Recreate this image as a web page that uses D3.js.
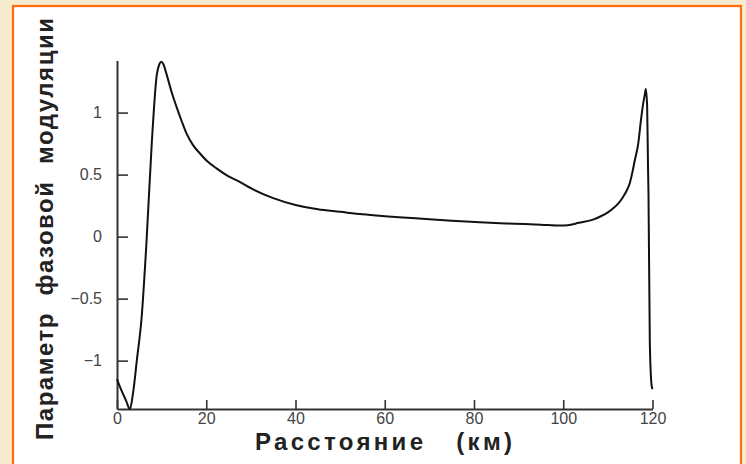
<!DOCTYPE html>
<html>
<head>
<meta charset="utf-8">
<script src="https://cdn.jsdelivr.net/npm/d3@7"></script>
<style>
  html, body { margin: 0; padding: 0; background: #f6ebcd; }
  svg { display: block; }
</style>
</head>
<body>
<script>
// Distance along the line (km) and the phase-modulation parameter at that point
const distanceKm = [0, 1, 2, 2.9, 3.6, 4.5, 5.5, 6.6, 7.8, 8.9, 9.5, 9.9, 10.4, 11.1, 12.2, 13.4,
  14.5, 15.6, 17, 18.6, 20.3, 22.3, 24.8, 27.6, 30, 35, 40, 45, 50, 55, 60, 65, 70, 75, 81.3,
  89, 95, 99.2, 101, 103.5, 106.5, 108.2, 110, 111.2, 112.4, 113.4, 114.2, 114.9, 115.5, 116,
  116.8, 117.4, 117.9, 118.3, 118.5, 118.8, 119.0, 119.1, 119.4, 119.8, 120];
const phaseParam = [-1.15, -1.24, -1.32, -1.39, -1.26, -0.98, -0.66, -0.05, 0.76, 1.30, 1.39, 1.41,
  1.39, 1.31, 1.17, 1.04, 0.93, 0.83, 0.74, 0.67, 0.605, 0.55, 0.49, 0.44, 0.39, 0.31, 0.255,
  0.22, 0.20, 0.18, 0.165, 0.152, 0.139, 0.127, 0.115, 0.104, 0.096, 0.089, 0.092, 0.111, 0.135,
  0.16, 0.195, 0.228, 0.27, 0.32, 0.37, 0.43, 0.52, 0.61, 0.75, 0.935, 1.07, 1.15, 1.19, 1.05,
  0.55, 0.35, -0.85, -1.2, -1.23];

const xTicks = [0, 20, 40, 60, 80, 100, 120];
const yTicks = [-1, -0.5, 0, 0.5, 1];
const xTitle = "Расстояние   (км)";
const yTitle = "Параметр  фазовой  модуляции";

const W = 746, H = 464;
const svg = d3.select("body").append("svg").attr("width", W).attr("height", H);

// white slide panel with orange frame
svg.append("rect").attr("x", 13).attr("y", 6).attr("width", 728).attr("height", H + 10)
  .attr("fill", "#ffffff").attr("stroke", "#ff6d0a").attr("stroke-width", 2.2);

const x = d3.scaleLinear().domain([0, 120]).range([117, 652.5]);
const y = d3.scaleLinear().domain([-1.39, 1.42]).range([409, 60.5]);

const axisColor = "#333";
const fontFam = "Arial, 'Liberation Sans', sans-serif";

// x axis: ticks point up into the plot
const gx = svg.append("g").attr("transform", `translate(0,${y(-1.39)})`)
  .call(d3.axisBottom(x).tickValues(xTicks).tickSize(-9).tickSizeOuter(0).tickPadding(3));
// y axis: ticks point right into the plot
const gy = svg.append("g").attr("transform", `translate(${x(0)},0)`)
  .call(d3.axisLeft(y).tickValues(yTicks).tickSize(-11).tickSizeOuter(0).tickPadding(15)
    .tickFormat(d => d3.format("")(d)));

[gx, gy].forEach(g => {
  g.select(".domain").attr("stroke", axisColor).attr("stroke-width", 2);
  g.selectAll(".tick line").attr("stroke", axisColor).attr("stroke-width", 1.6);
  g.selectAll(".tick text").attr("fill", "#444").attr("font-family", fontFam).attr("font-size", 16);
});
gx.selectAll(".tick text").attr("dy", "0.72em");

// curve
const pts = distanceKm.map((d, i) => [d, phaseParam[i]]);
svg.append("path").datum(pts)
  .attr("fill", "none").attr("stroke", "#111").attr("stroke-width", 2)
  .attr("stroke-linejoin", "round")
  .attr("d", d3.line().x(d => x(d[0])).y(d => y(d[1])).curve(d3.curveMonotoneX));

// axis titles
svg.append("text").attr("x", 255).attr("y", 450)
  .attr("font-family", fontFam).attr("font-size", 24).attr("font-weight", "bold")
  .attr("fill", "#222").attr("textLength", 257).attr("lengthAdjust", "spacing")
  .attr("xml:space", "preserve").text(xTitle);

svg.append("text").attr("transform", "translate(53,440) rotate(-90)")
  .attr("x", 0).attr("y", 0)
  .attr("font-family", fontFam).attr("font-size", 24).attr("font-weight", "bold")
  .attr("fill", "#222").attr("textLength", 422).attr("lengthAdjust", "spacing")
  .attr("xml:space", "preserve").text(yTitle);
</script>
</body>
</html>
